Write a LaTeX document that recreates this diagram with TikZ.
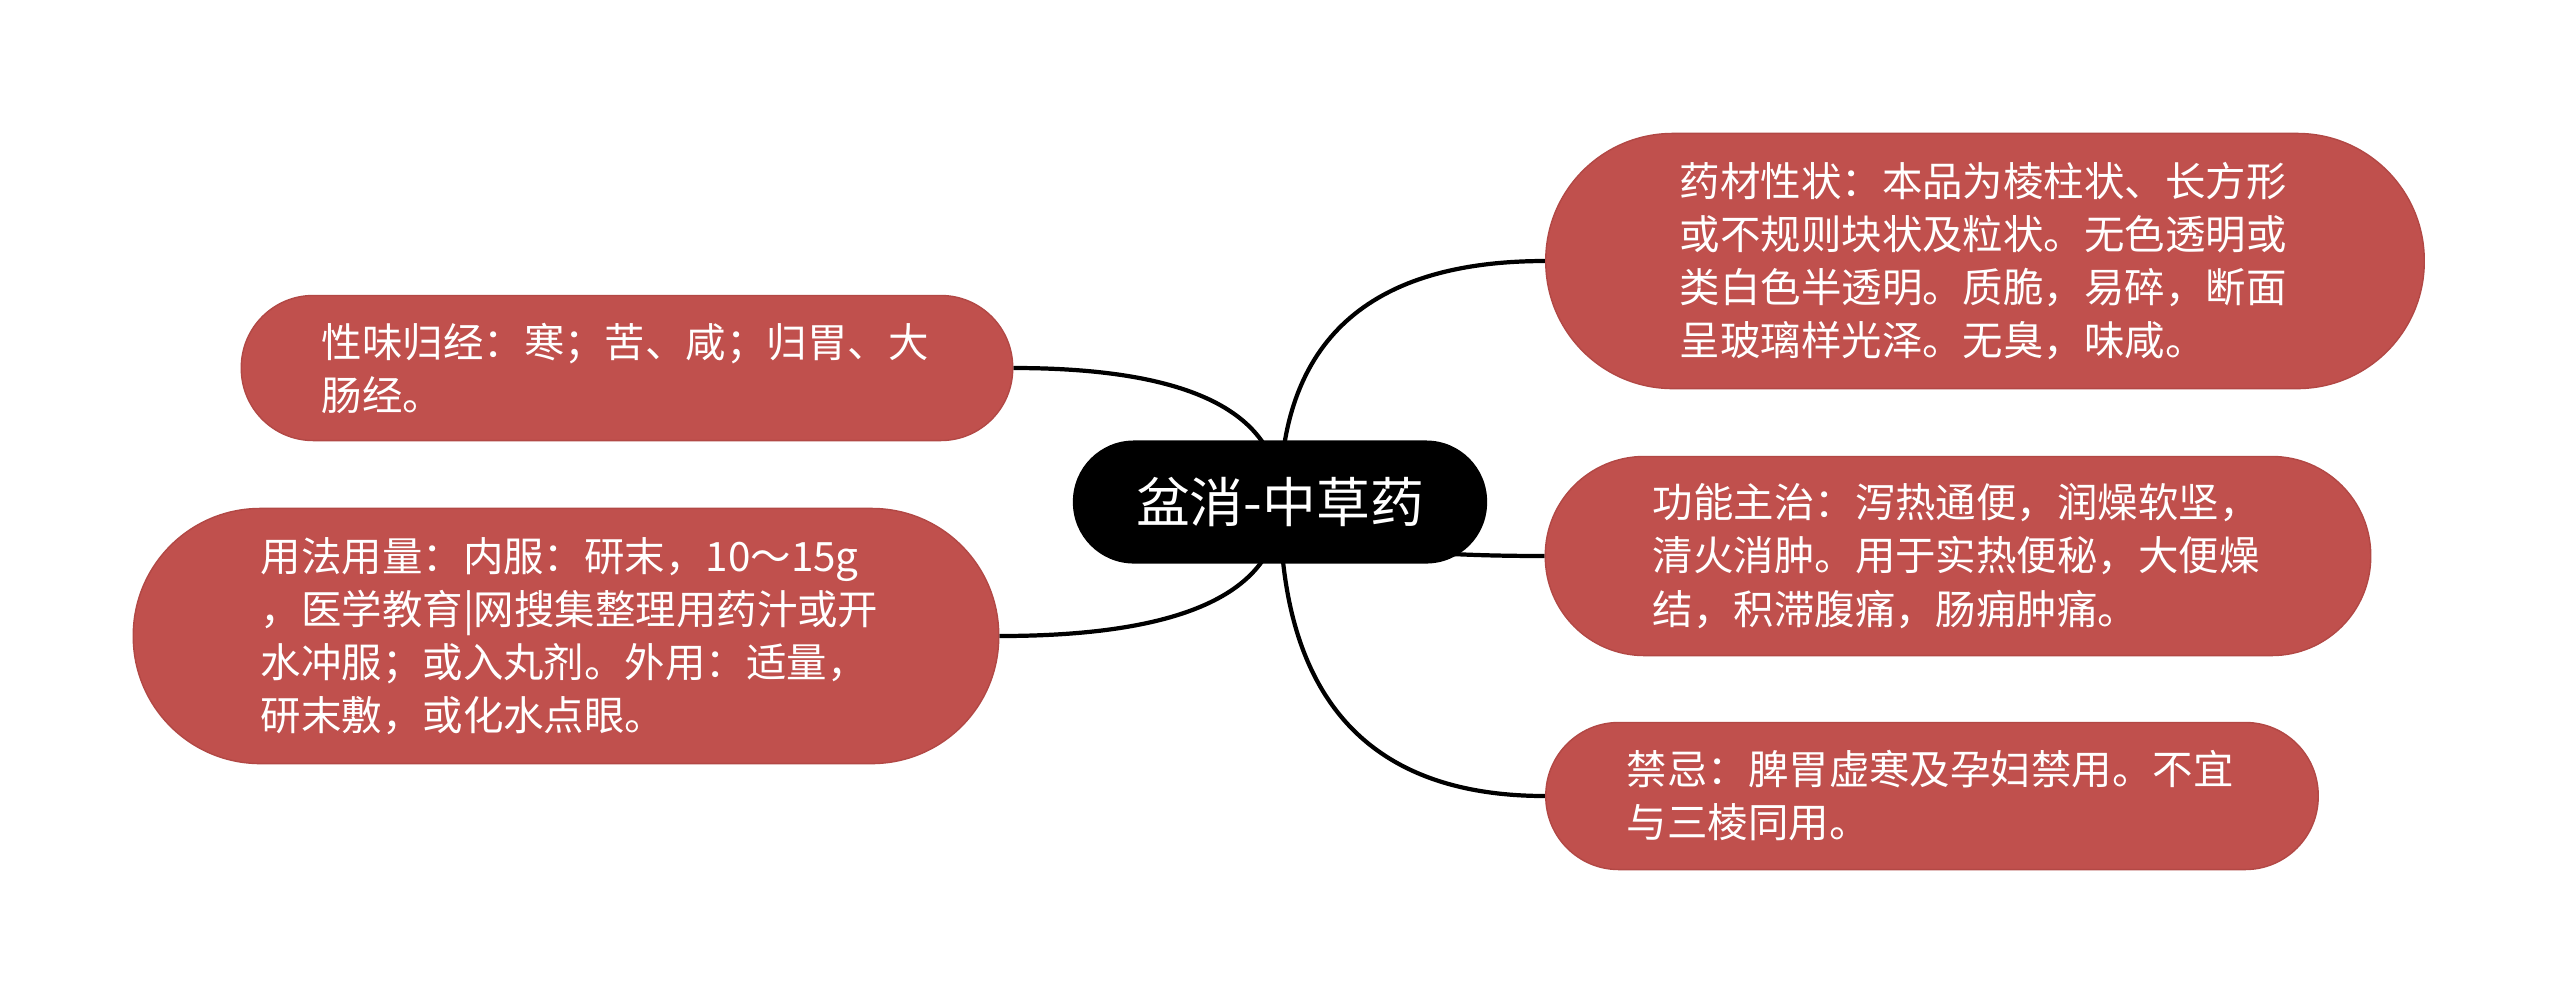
\documentclass[tikz,border=0pt]{standalone}
\usepackage{fontspec}
\setmainfont{Noto Sans CJK SC}
\usetikzlibrary{
    backgrounds,
    calc
}
\definecolor{topicred}{HTML}{C0504D}
\definecolor{topicedge}{HTML}{B24845}
\tikzset{
    root topic/.style={
        fill=black,
        text=white,
        rounded corners=0.61cm,
        minimum width=4.14cm,
        minimum height=1.23cm,
        inner sep=0pt,
        font=\fontsize{15.3pt}{18pt}\selectfont
    },
    sub topic/.style={
        draw=topicedge,
        fill=topicred,
        text=white,
        line width=0.4pt,
        align=left,
        text width=6.1cm,
        inner sep=0pt,
        font=\fontsize{11.5pt}{15.1pt}\selectfont
    },
    link/.style={
        draw=black,
        line width=1.2pt
    }
}
% curve from the hub to one side of a topic
\newcommand{\linkto}[1]{%
    \draw[link] (hub)
        .. controls ($(hub)!0.667!(hub |- #1)$)
        and ($(#1)!0.667!(hub |- #1)$) .. (#1);
}

\begin{document}
\begin{tikzpicture}[x=0.01cm, y=-0.01cm]

    \useasboundingbox (0,0) rectangle (2560,1005);

    % Central topic.
    \node[root topic] (root) at (1280,502) {盆消-中草药};
    \coordinate (hub) at (root.center);

    % Left topics.
    \node[sub topic, minimum width=7.71cm, minimum height=1.45cm,
        rounded corners=0.72cm] (taste) at (627,368)
        {性味归经：寒；苦、咸；归胃、大\\肠经。};

    \node[sub topic, minimum width=8.65cm, minimum height=2.55cm,
        rounded corners=1.27cm] (usage) at (566,636)
        {用法用量：内服：研末，10～15g\\，医学教育|网搜集整理用药汁或开\\水冲服；或入丸剂。外用：适量，\\研末敷，或化水点眼。};

    % Right topics.
    \node[sub topic, minimum width=8.78cm, minimum height=2.55cm,
        rounded corners=1.27cm] (form) at (1985,261)
        {药材性状：本品为棱柱状、长方形\\或不规则块状及粒状。无色透明或\\类白色半透明。质脆，易碎，断面\\呈玻璃样光泽。无臭，味咸。};

    \node[sub topic, minimum width=8.25cm, minimum height=1.99cm,
        rounded corners=0.99cm] (effect) at (1958,556)
        {功能主治：泻热通便，润燥软坚，\\清火消肿。用于实热便秘，大便燥\\结，积滞腹痛，肠痈肿痛。};

    \node[sub topic, minimum width=7.72cm, minimum height=1.47cm,
        rounded corners=0.73cm] (taboo) at (1932,796)
        {禁忌：脾胃虚寒及孕妇禁用。不宜\\与三棱同用。};

    % Connectors, behind the nodes.
    \begin{scope}[on background layer]
        \fill[white] (0,0) rectangle (2560,1005);
        \linkto{taste.east}
        \linkto{usage.east}
        \linkto{form.west}
        \linkto{effect.west}
        \linkto{taboo.west}
    \end{scope}

\end{tikzpicture}
\end{document}
